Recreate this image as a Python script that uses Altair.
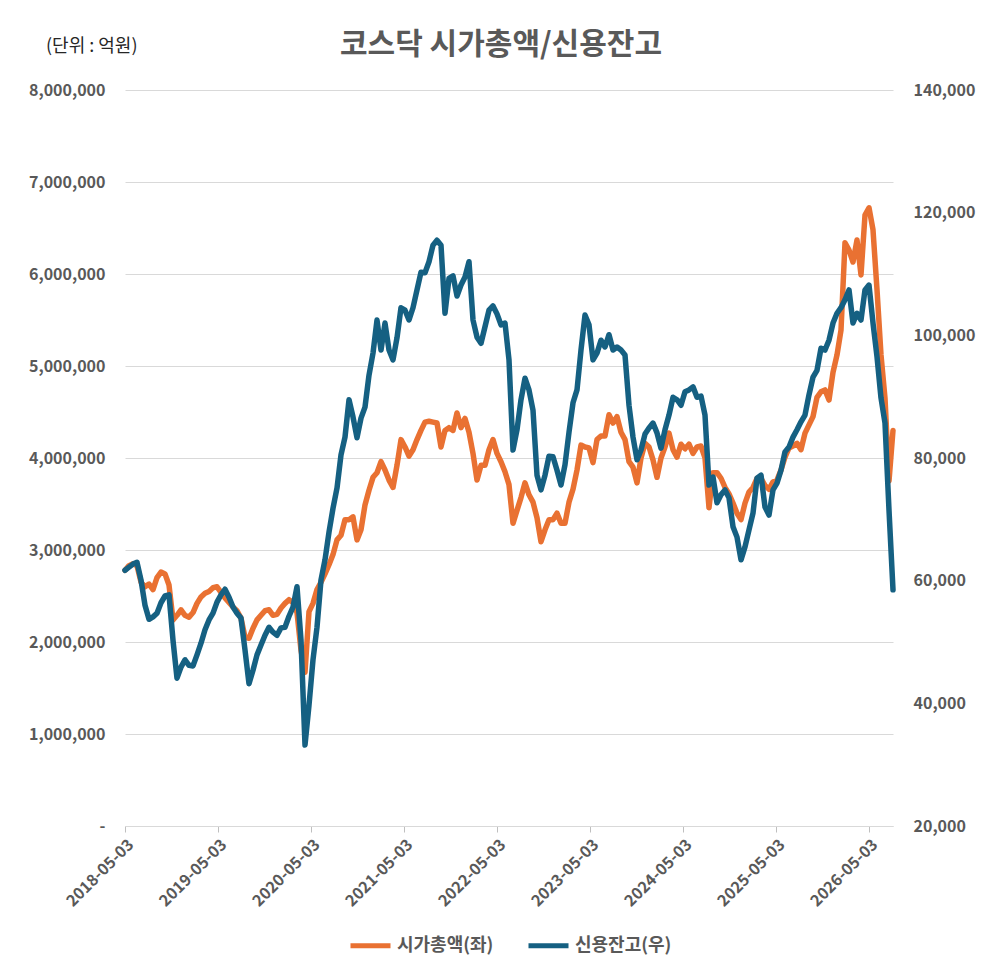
import pandas as pd
import altair as alt

FONT = "Noto Sans CJK KR"
GRAY = "#595959"

start = "2018-05-03"
end = "2026-08-05"
names = ["시가총액(좌)", "신용잔고(우)"]
colors = ["#E97132", "#156082"]

# 코스닥 시가총액 (억원, 좌축) - roughly every two weeks
market_cap = [
    2780000, 2830000, 2850000, 2830000, 2650000, 2600000, 2630000, 2570000, 2700000, 2760000,
    2740000, 2620000, 2240000, 2290000, 2350000, 2290000, 2270000, 2320000, 2420000, 2490000,
    2530000, 2550000, 2590000, 2600000, 2540000, 2480000, 2430000, 2380000, 2340000, 2260000,
    2050000, 2040000, 2150000, 2240000, 2290000, 2340000, 2350000, 2290000, 2300000, 2370000,
    2420000, 2460000, 2430000, 2320000, 1910000, 1670000, 2330000, 2420000, 2570000, 2650000,
    2740000, 2840000, 2950000, 3110000, 3160000, 3330000, 3330000, 3360000, 3110000, 3220000,
    3490000, 3650000, 3790000, 3840000, 3960000, 3870000, 3760000, 3680000, 3920000, 4200000,
    4120000, 4020000, 4090000, 4200000, 4300000, 4390000, 4400000, 4390000, 4380000, 4120000,
    4300000, 4330000, 4300000, 4490000, 4330000, 4430000, 4280000, 4050000, 3760000, 3920000,
    3920000, 4090000, 4200000, 4050000, 3960000, 3850000, 3710000, 3290000, 3430000, 3570000,
    3730000, 3600000, 3520000, 3350000, 3090000, 3220000, 3330000, 3330000, 3400000, 3290000,
    3290000, 3520000, 3660000, 3870000, 4140000, 4120000, 4110000, 3950000, 4200000, 4240000,
    4240000, 4470000, 4380000, 4450000, 4280000, 4200000, 3960000, 3900000, 3730000, 4000000,
    4160000, 4120000, 3980000, 3790000, 4000000, 4120000, 4270000, 4090000, 4010000, 4150000,
    4100000, 4150000, 4050000, 4120000, 4130000, 4000000, 3460000, 3840000, 3840000, 3780000,
    3680000, 3610000, 3510000, 3400000, 3330000, 3510000, 3630000, 3680000, 3780000, 3780000,
    3700000, 3660000, 3740000, 3760000, 3870000, 4010000, 4110000, 4130000, 4160000, 4090000,
    4270000, 4360000, 4450000, 4660000, 4720000, 4740000, 4630000, 4930000, 5120000, 5390000,
    6340000, 6260000, 6130000, 6370000, 5990000, 6640000, 6720000, 6480000, 5830000, 5120000,
    4650000, 3750000, 4300000,
]

# 코스닥 신용잔고 (억원, 우축)
credit_balance = [
    61700, 62200, 62700, 63000, 60100, 56000, 53700, 54100, 54700, 56400,
    57500, 57700, 50300, 44100, 45900, 47100, 46200, 46100, 47900, 49800,
    52000, 53600, 54700, 56500, 57700, 58600, 57300, 55700, 54700, 53900,
    48700, 43200, 45400, 47900, 49500, 51100, 52400, 51600, 51100, 52300,
    52400, 54200, 55700, 59000, 50300, 33200, 39700, 47100, 52400, 60100,
    63400, 67900, 71800, 75100, 80500, 83400, 89500, 86700, 83300, 86500,
    88300, 93500, 97100, 102500, 97600, 102000, 97600, 96000, 99600, 104500,
    104100, 102500, 104500, 107400, 110300, 110200, 112000, 114700, 115500, 114700,
    103600, 109300, 109700, 106400, 108200, 109500, 112000, 102500, 99700, 98700,
    101400, 104100, 104800, 103500, 101700, 102000, 96000, 81300, 84600, 89500,
    93000, 91100, 87800, 77200, 74800, 77200, 80300, 80200, 78000, 75600,
    78900, 84200, 89000, 91100, 97600, 103300, 101700, 96000, 97100, 99200,
    98100, 100100, 97600, 98100, 97600, 96800, 88600, 83400, 79700, 81300,
    83900, 84900, 85700, 84100, 81600, 84600, 87000, 89900, 89500, 88600,
    90800, 91100, 91600, 89900, 90100, 87000, 75600, 76900, 72700, 74000,
    74800, 73500, 68800, 67100, 63400, 65500, 68300, 71000, 76700, 77200,
    72000, 70700, 74800, 75900, 78000, 81000, 81800, 83400, 84600, 85900,
    87000, 90300, 93200, 94300, 97900, 97600, 99200, 102000, 103600, 104500,
    105800, 107400, 102000, 103600, 102500, 107400, 108200, 102000, 96500, 89800,
    85700, 71500, 58500,
]

left_ticks = list(range(0, 8000001, 1000000))
right_ticks = list(range(20000, 140001, 20000))
year_ticks = [alt.DateTime(year=y, month=5, date=3) for y in range(2018, 2027)]

cap_df = pd.DataFrame({
    "date": pd.date_range(start, end, periods=len(market_cap)),
    "value": market_cap,
    "series": names[0],
})
credit_df = pd.DataFrame({
    "date": pd.date_range(start, end, periods=len(credit_balance)),
    "value": credit_balance,
    "series": names[1],
})

x_enc = alt.X(
    "date:T",
    title=None,
    scale=alt.Scale(domain=[alt.DateTime(year=2018, month=5, date=3),
                            alt.DateTime(year=2026, month=8, date=5)], nice=False),
    axis=alt.Axis(values=year_ticks, format="%Y-%m-%d", labelAngle=-45,
                  grid=False, domainColor="#D9D9D9", tickColor="#BFBFBF",
                  tickSize=6, labelPadding=4, labelFontSize=16),
)

color_enc = alt.Color(
    "series:N",
    scale=alt.Scale(domain=names, range=colors),
    legend=alt.Legend(
        title=None, orient="none", legendX=223, legendY=833, direction="horizontal",
        symbolType="stroke", symbolSize=1600, symbolStrokeWidth=5,
        labelFont=FONT, labelFontSize=18, labelFontWeight="bold", labelColor=GRAY,
        labelOffset=4, columnPadding=24, padding=0,
    ),
)

line_style = dict(strokeWidth=5.5, strokeJoin="round", strokeCap="round")

cap_line = alt.Chart(cap_df).mark_line(**line_style).encode(
    x=x_enc,
    y=alt.Y("cap:Q", title=None,
            scale=alt.Scale(domain=[0, 8000000], nice=False),
            axis=alt.Axis(orient="left", values=left_ticks,
                          labelExpr="datum.value == 0 ? '-' : format(datum.value, ',')",
                          ticks=False, domain=False, gridColor="#D9D9D9",
                          labelPadding=20)),
    color=color_enc,
).transform_calculate(cap="datum.value")

credit_line = alt.Chart(credit_df).mark_line(**line_style).encode(
    x=x_enc,
    y=alt.Y("credit:Q", title=None,
            scale=alt.Scale(domain=[20000, 140000], nice=False),
            axis=alt.Axis(orient="right", values=right_ticks,
                          labelExpr="format(datum.value, ',')",
                          grid=False, ticks=False, domain=False, labelPadding=20)),
    color=color_enc,
).transform_calculate(credit="datum.value")

title_text = alt.Chart(pd.DataFrame({"t": ["코스닥 시가총액/신용잔고"]})).mark_text(
    font=FONT, fontSize=30, fontWeight="bold", color=GRAY, align="center", baseline="middle"
).encode(x=alt.value(376), y=alt.value(-45), text="t:N")

unit_text = alt.Chart(pd.DataFrame({"t": ["(단위 : 억원)"]})).mark_text(
    font=FONT, fontSize=18, color="#262626", align="left", baseline="middle"
).encode(x=alt.value(-79), y=alt.value(-43), text="t:N")

chart = alt.layer(cap_line, credit_line, title_text, unit_text).resolve_scale(
    y="independent"
).properties(
    width=768,
    height=736,
    padding={"left": 117, "top": 82, "right": 92, "bottom": 145},
    autosize=alt.AutoSizeParams(type="none"),
    background="white",
).configure_view(
    strokeWidth=0
).configure_axis(
    labelFont=FONT,
    labelFontSize=16,
    labelFontWeight="bold",
    labelColor=GRAY,
)

chart.save("out.html", embed_options={"renderer": "svg", "actions": False})
